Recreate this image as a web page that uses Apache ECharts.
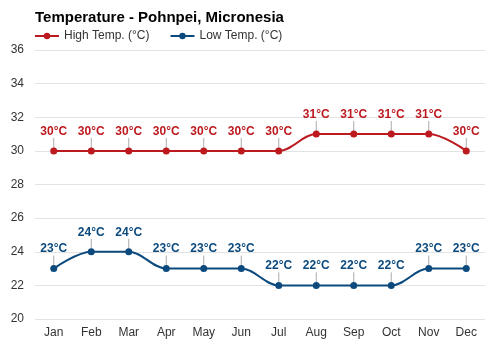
<!DOCTYPE html>
<html>
<head>
<meta charset="utf-8">
<script src="https://cdn.jsdelivr.net/npm/echarts@6/dist/echarts.min.js"></script>
<style>
  html, body { margin: 0; padding: 0; background: #fff; }
  #chart { width: 500px; height: 350px; }
</style>
</head>
<body>
<div id="chart"></div>
<script>
const months = ['Jan', 'Feb', 'Mar', 'Apr', 'May', 'Jun', 'Jul', 'Aug', 'Sep', 'Oct', 'Nov', 'Dec'];
const highTemp = [30, 30, 30, 30, 30, 30, 30, 31, 31, 31, 31, 30];
const lowTemp = [23, 24, 24, 23, 23, 23, 22, 22, 22, 22, 23, 23];

const HIGH_COLOR = '#bd1a1f';
const LOW_COLOR = '#0c4a7e';

const chart = echarts.init(document.getElementById('chart'));

// short grey leader lines between each point and its label
const leaderSeries = (values) => ({
  type: 'custom',
  silent: true,
  z: 1,
  data: values.map((v, i) => [i, v]),
  renderItem: (params, api) => {
    const p = api.coord([api.value(0), api.value(1)]);
    return {
      type: 'line',
      shape: { x1: p[0], y1: p[1] - 3, x2: p[0], y2: p[1] - 13 },
      style: { stroke: '#aaa', lineWidth: 1 }
    };
  }
});

const tempSeries = (name, values, color) => ({
  name,
  type: 'line',
  data: values,
  smooth: 0.35,
  symbol: 'circle',
  symbolSize: 7,
  z: 3,
  itemStyle: { color },
  lineStyle: { color, width: 2 },
  label: {
    show: true,
    position: 'top',
    distance: 10,
    formatter: (p) => p.value + '°C',
    color,
    fontWeight: 'bold',
    fontSize: 12,
    fontFamily: 'Arial, Liberation Sans, sans-serif'
  }
});

chart.setOption({
  animation: false,
  textStyle: { fontFamily: 'Arial, Liberation Sans, sans-serif' },
  title: {
    text: 'Temperature - Pohnpei, Micronesia',
    left: 30,
    top: 5,
    textStyle: { fontSize: 15, fontWeight: 'bold', color: '#000' }
  },
  legend: {
    left: 29,
    top: 25,
    itemGap: 20,
    itemWidth: 24,
    itemHeight: 8,
    textStyle: { fontSize: 12, color: '#333' },
    data: ['High Temp. (°C)', 'Low Temp. (°C)']
  },
  grid: { left: 35, right: 15, top: 50, bottom: 31, containLabel: false },
  xAxis: {
    type: 'category',
    data: months,
    boundaryGap: true,
    axisLine: { show: false },
    axisTick: { show: false },
    axisLabel: { color: '#333', fontSize: 12, margin: 8 }
  },
  yAxis: {
    type: 'value',
    min: 20,
    max: 36,
    interval: 2,
    axisLine: { show: false },
    axisTick: { show: false },
    axisLabel: { color: '#333', fontSize: 12, margin: 11 },
    splitLine: { lineStyle: { color: '#e3e3e3' } }
  },
  series: [
    tempSeries('High Temp. (°C)', highTemp, HIGH_COLOR),
    tempSeries('Low Temp. (°C)', lowTemp, LOW_COLOR),
    leaderSeries(highTemp),
    leaderSeries(lowTemp)
  ]
});
</script>
</body>
</html>
